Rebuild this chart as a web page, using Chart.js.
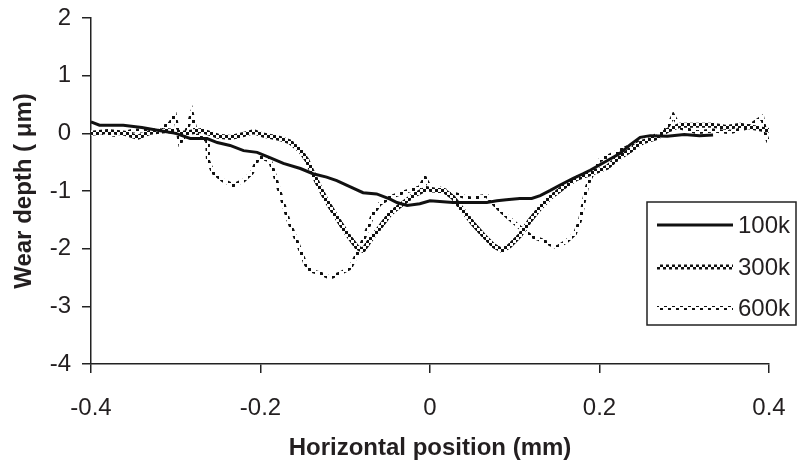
<!DOCTYPE html>
<html><head><meta charset="utf-8">
<script src="https://cdn.jsdelivr.net/npm/chart.js@4"></script>
<style>html,body{margin:0;padding:0;background:#fff}canvas{display:block}</style>
</head><body>
<canvas id="c" width="801" height="469"></canvas>
<script>
const seriesLabels = ['100k', '300k', '600k'];

const x100 = [-0.4, -0.39, -0.362, -0.34, -0.32, -0.3, -0.283, -0.263, -0.251, -0.236, -0.22, -0.204, -0.189, -0.173, -0.153, -0.138, -0.122, -0.11, -0.094, -0.079, -0.063, -0.047, -0.039, -0.027, -0.012, 0.0, 0.027, 0.067, 0.079, 0.09, 0.106, 0.12, 0.13, 0.142, 0.153, 0.169, 0.181, 0.189, 0.2, 0.212, 0.224, 0.236, 0.248, 0.26, 0.28, 0.3, 0.318, 0.334];
const y100 = [0.2, 0.14, 0.14, 0.1, 0.05, 0.0, -0.09, -0.09, -0.16, -0.21, -0.3, -0.33, -0.42, -0.52, -0.61, -0.7, -0.76, -0.82, -0.93, -1.03, -1.05, -1.14, -1.2, -1.25, -1.22, -1.17, -1.2, -1.2, -1.17, -1.15, -1.13, -1.13, -1.08, -0.99, -0.9, -0.78, -0.7, -0.64, -0.55, -0.45, -0.35, -0.2, -0.07, -0.04, -0.05, -0.02, -0.04, -0.03];

const x300 = [-0.4, -0.38, -0.36, -0.345, -0.33, -0.31, -0.29, -0.27, -0.25, -0.235, -0.22, -0.208, -0.197, -0.177, -0.165, -0.153, -0.145, -0.138, -0.13, -0.122, -0.11, -0.098, -0.086, -0.079, -0.071, -0.059, -0.047, -0.035, -0.02, -0.004, 0.008, 0.016, 0.027, 0.039, 0.051, 0.063, 0.075, 0.085, 0.094, 0.106, 0.118, 0.13, 0.142, 0.157, 0.173, 0.189, 0.209, 0.22, 0.236, 0.251, 0.268, 0.28, 0.295, 0.315, 0.334, 0.35, 0.366, 0.381, 0.4];
const y300 = [0.0, 0.03, 0.0, -0.07, 0.02, 0.05, 0.0, 0.05, -0.05, -0.07, -0.02, 0.03, -0.03, -0.09, -0.15, -0.3, -0.47, -0.7, -0.94, -1.17, -1.46, -1.74, -1.98, -2.03, -1.86, -1.63, -1.39, -1.25, -1.08, -0.96, -0.99, -0.99, -1.11, -1.34, -1.57, -1.77, -1.95, -2.03, -1.95, -1.77, -1.51, -1.29, -1.11, -0.94, -0.78, -0.7, -0.59, -0.45, -0.3, -0.15, -0.07, 0.05, 0.14, 0.14, 0.14, 0.1, 0.14, 0.1, 0.05];

const x600 = [-0.4, -0.37, -0.35, -0.322, -0.307, -0.301, -0.295, -0.288, -0.281, -0.276, -0.271, -0.263, -0.262, -0.256, -0.244, -0.232, -0.22, -0.21, -0.204, -0.2, -0.189, -0.185, -0.179, -0.173, -0.167, -0.159, -0.153, -0.147, -0.141, -0.13, -0.118, -0.106, -0.094, -0.086, -0.079, -0.073, -0.067, -0.059, -0.047, -0.035, -0.024, -0.012, -0.006, 0.002, 0.012, 0.027, 0.047, 0.067, 0.075, 0.083, 0.094, 0.106, 0.118, 0.133, 0.15, 0.162, 0.171, 0.177, 0.181, 0.185, 0.189, 0.2, 0.224, 0.244, 0.263, 0.28, 0.287, 0.295, 0.315, 0.334, 0.354, 0.374, 0.392, 0.397, 0.4];
const y600 = [0.02, -0.03, 0.05, 0.05, 0.17, 0.31, -0.17, 0.0, 0.35, 0.0, -0.07, -0.12, -0.47, -0.68, -0.82, -0.9, -0.82, -0.68, -0.47, -0.42, -0.47, -0.64, -0.94, -1.22, -1.51, -1.8, -2.03, -2.26, -2.38, -2.43, -2.5, -2.43, -2.33, -2.09, -1.86, -1.63, -1.39, -1.22, -1.11, -1.04, -0.99, -0.94, -0.77, -0.99, -0.96, -1.04, -1.13, -1.08, -1.22, -1.34, -1.48, -1.63, -1.77, -1.86, -1.98, -1.86, -1.74, -1.51, -1.22, -0.94, -0.78, -0.47, -0.3, -0.17, -0.07, 0.1, 0.31, 0.1, 0.02, 0.05, 0.02, 0.1, 0.28, -0.07, -0.17];

const xTicks = [-0.4, -0.2, 0, 0.2, 0.4];
const yTicks = [-4, -3, -2, -1, 0, 1, 2];
const xTitle = 'Horizontal position (mm)';
const yTitle = 'Wear depth ( μm)';

function makePattern(tile, sq, offs) {
  const c = document.createElement('canvas');
  c.width = tile; c.height = tile;
  const g = c.getContext('2d');
  g.fillStyle = '#fff'; g.fillRect(0, 0, tile, tile);
  g.fillStyle = '#111';
  offs.forEach(o => g.fillRect(o[0], o[1], sq, sq));
  return document.getElementById('c').getContext('2d').createPattern(c, 'repeat');
}
const pat300 = makePattern(6, 3, [[0, 0], [3, 3]]);
const pat600 = makePattern(8, 3, [[0, 0], [4, 4]]);

const toPts = (xs, ys) => xs.map((x, i) => ({x: x, y: ys[i]}));
const FONT = "'Liberation Sans', Arial, sans-serif";
const TXT = '#231f20';

const legendPlugin = {
  id: 'boxLegend',
  afterDraw(chart) {
    const ctx = chart.ctx;
    const L = 647, T = 202, R = 796, B = 325;
    ctx.save();
    ctx.fillStyle = '#fff';
    ctx.fillRect(L, T, R - L, B - T);
    ctx.strokeStyle = '#222'; ctx.lineWidth = 1.5;
    ctx.strokeRect(L, T, R - L, B - T);
    const rows = [225, 267, 308];
    chart.data.datasets.forEach((ds, i) => {
      ctx.beginPath();
      ctx.strokeStyle = ds.borderColor;
      ctx.lineWidth = ds.borderWidth;
      ctx.moveTo(657, rows[i]); ctx.lineTo(733, rows[i]);
      ctx.stroke();
      ctx.fillStyle = TXT;
      ctx.font = '24px ' + FONT;
      ctx.textBaseline = 'middle';
      ctx.textAlign = 'left';
      ctx.fillText(ds.label, 738, rows[i] + 1);
    });
    ctx.restore();
  }
};

new Chart(document.getElementById('c'), {
  type: 'line',
  data: {
    datasets: [
      {label: seriesLabels[0], data: toPts(x100, y100), borderColor: '#111', borderWidth: 3, pointRadius: 0, tension: 0},
      {label: seriesLabels[1], data: toPts(x300, y300), borderColor: pat300, borderWidth: 5, pointRadius: 0, tension: 0},
      {label: seriesLabels[2], data: toPts(x600, y600), borderColor: pat600, borderWidth: 4, pointRadius: 0, tension: 0}
    ]
  },
  plugins: [legendPlugin],
  options: {
    responsive: false,
    animation: false,
    devicePixelRatio: 1,
    layout: {padding: {top: 18, right: 32, bottom: 0, left: 0}},
    plugins: {legend: {display: false}, tooltip: {enabled: false}},
    scales: {
      x: {
        type: 'linear', min: -0.4, max: 0.4,
        afterBuildTicks: s => { s.ticks = xTicks.map(v => ({value: v})); },
        afterFit: s => { s.height = 105; s.paddingLeft = 0; s.paddingRight = 0; },
        ticks: {
          font: {family: FONT, size: 24}, color: TXT, padding: 21,
          callback: v => (Math.abs(v) < 1e-9 ? '0' : Number(v).toFixed(1))
        },
        grid: {display: true, drawOnChartArea: false, drawTicks: true, tickLength: 9, color: '#222', lineWidth: 1.5},
        border: {display: true, color: '#222', width: 1.5},
        title: {display: true, text: xTitle, color: TXT, font: {family: FONT, size: 24, weight: 'bold'}, padding: {top: 0, bottom: 6}}
      },
      y: {
        type: 'linear', min: -4, max: 2,
        afterBuildTicks: s => { s.ticks = yTicks.map(v => ({value: v})); },
        afterFit: s => { s.width = 91; s.paddingTop = 0; s.paddingBottom = 0; },
        ticks: {font: {family: FONT, size: 24}, color: TXT, padding: 11, callback: v => String(v)},
        grid: {display: true, drawOnChartArea: false, drawTicks: true, tickLength: 9, color: '#222', lineWidth: 1.5},
        border: {display: true, color: '#222', width: 1.5},
        title: {display: true, text: yTitle, color: TXT, font: {family: FONT, size: 24, weight: 'bold'}, padding: {top: 10, bottom: 0}}
      }
    }
  }
});
</script>
</body></html>
